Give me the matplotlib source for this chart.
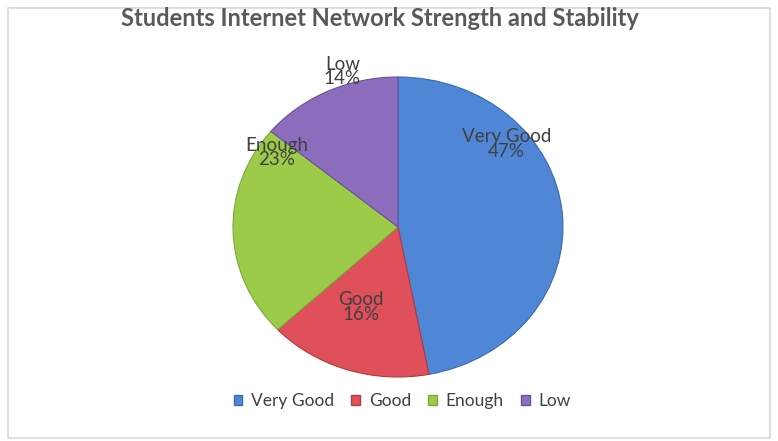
import matplotlib.pyplot as plt
from matplotlib.patches import Patch, Rectangle
import numpy as np

# data
categories = ["Very Good", "Good", "Enough", "Low"]
shares = [47, 16, 23, 14]
colors = ["#4F87D6", "#E0505A", "#9CCB4A", "#8C6DBD"]
edges = ["#3A6AB0", "#B03A3F", "#7CA83A", "#6C4F9A"]

# label placement (angle in degrees, radius) picked to match Excel's "best fit"
label_pos = [(40, 0.86), (-113, 0.58), (146, 0.89), (108, 1.09)]

plt.rcParams['font.family'] = ['Lato', 'DejaVu Sans']

fig = plt.figure(figsize=(7.78, 4.41), dpi=100)
fig.patches.append(Rectangle((8 / 778, 3 / 441), 762 / 778, 430 / 441,
                             transform=fig.transFigure, fill=False,
                             edgecolor="#D9D9D9", linewidth=1.2))

# pie is slightly wider than tall, so use an axes with free aspect
ax = fig.add_axes([233 / 778, 64 / 441, 330 / 778, 300 / 441])
wedges, _ = ax.pie(shares, colors=colors, startangle=90, counterclock=False,
                   wedgeprops=dict(linewidth=0.8))
for w, ec in zip(wedges, edges):
    w.set_edgecolor(ec)
ax.set_aspect("auto")
ax.set_xlim(-1, 1)
ax.set_ylim(-1, 1)
ax.axis("off")

for cat, val, (ang, r) in zip(categories, shares, label_pos):
    a = np.deg2rad(ang)
    ax.text(r * np.cos(a), r * np.sin(a), f"{cat}\n{val}%", ha="center",
            va="center", fontsize=13.5, color="#404040", linespacing=0.8)

fig.text(0.488, 0.958, "Students Internet Network Strength and Stability",
         ha="center", va="center", fontsize=17, fontweight="bold", color="#595959")

handles = [Patch(facecolor=c, edgecolor=e) for c, e in zip(colors, edges)]
fig.legend(handles, categories, loc="center", bbox_to_anchor=(0.517, 0.09),
           ncol=4, frameon=False, fontsize=12.5, handlelength=0.5,
           handleheight=0.5, handletextpad=0.5, columnspacing=1.0,
           labelcolor="#404040")

fig.savefig("out.png", dpi=100)
